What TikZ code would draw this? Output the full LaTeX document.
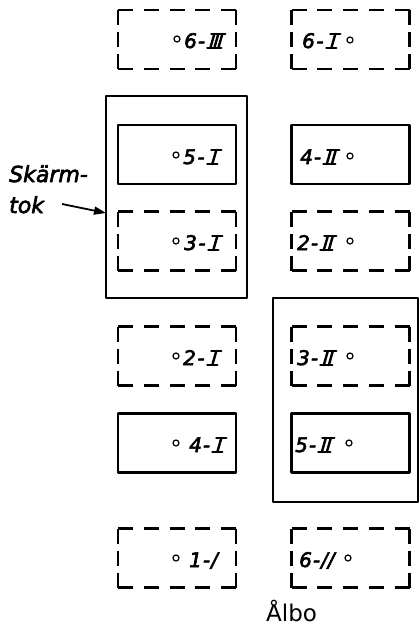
\documentclass[tikz,border=0pt]{standalone}
\usepackage{fontspec}
\setmainfont{DejaVu Sans}
\newfontfamily\albofont{DejaVu Sans}
\usetikzlibrary{arrows.meta}

% Roman numerals with joined top and bottom bars, slanted like technical lettering
\tikzset{rn/.style={baseline=0pt,x=1pt,y=1pt,line width=2.4pt,line cap=round,draw=black}}
\newcommand{\romI}{\tikz[rn]{\draw (0,0) -- (10,0); \draw (4,14) -- (14,14); \draw (5,0) -- (9,14);}}
\newcommand{\romII}{\tikz[rn]{\draw (0,0) -- (12,0); \draw (4,14) -- (16,14);
  \draw (3.5,0) -- (7.5,14); \draw (8.5,0) -- (12.5,14);}}
\newcommand{\romIII}{\tikz[rn]{\draw (0,0) -- (14,0); \draw (4,14) -- (18,14);
  \draw (3,0) -- (7,14); \draw (7,0) -- (11,14); \draw (11,0) -- (15,14);}}

% dashed outline drawn side by side so every corner carries a full dash
\newcommand{\dashsides}[1]{%
  \draw[hdash] (#1.north west) -- (#1.north east);
  \draw[hdash] (#1.south west) -- (#1.south east);
  \draw[vdash] (#1.north west) -- (#1.south west);
  \draw[vdash] (#1.north east) -- (#1.south east);}

\tikzset{
  cell/.style={rectangle,inner sep=0pt,outer sep=0pt,minimum width=118pt,minimum height=59pt},
  solidcell/.style={cell,draw,line width=2.3pt},
  dashcell/.style={cell},
  hdash/.style={line width=2.3pt,dash pattern=on 15pt off 10.75pt},
  vdash/.style={line width=2.3pt,dash pattern=on 15pt off 7pt},
  roof/.style={rectangle,draw,line width=2.4pt,inner sep=0pt,outer sep=0pt},
  dot/.style={circle,draw,line width=1.2pt,inner sep=0pt,minimum size=6pt},
  lab/.style={inner sep=0pt,font=\fontsize{20}{20}\selectfont\itshape\addfontfeature{FakeBold=3}},
  note/.style={inner sep=0pt,anchor=base west,font=\fontsize{22}{22}\selectfont\itshape\addfontfeature{FakeBold=3}},
}

\begin{document}
\begin{tikzpicture}[x=1pt,y=-1pt,line join=round]
\useasboundingbox (0,0) rectangle (419,629);

% screen roofs
\node[roof,minimum width=141pt,minimum height=202pt] (roofL) at (176.5,197) {};
\node[roof,minimum width=145pt,minimum height=204pt] (roofR) at (345.5,400) {};

% left column
\node[dashcell]  (c6III) at (177,39.5) {};
\node[solidcell] (c5I)   at (177,154.5) {};
\node[dashcell]  (c3I)   at (177,241) {};
\node[dashcell]  (c2I)   at (177,356) {};
\node[solidcell] (c4I)   at (177,443) {};
\node[dashcell]  (c1)    at (177,558) {};

% right column
\node[dashcell]  (c6I)   at (350.5,39.5) {};
\node[solidcell] (c4II)  at (350.5,154.5) {};
\node[dashcell]  (c2II)  at (350.5,241) {};
\node[dashcell]  (c3II)  at (350.5,356) {};
\node[solidcell] (c5II)  at (350.5,443) {};
\node[dashcell]  (c611)  at (350.5,558) {};

\dashsides{c6III}
\dashsides{c3I}
\dashsides{c2I}
\dashsides{c1}
\dashsides{c6I}
\dashsides{c2II}
\dashsides{c3II}
\dashsides{c611}

% left column labels
\node[dot] (d6III) at (177,39) {};
\node[lab,anchor=base west] (t6III) at (184,48) {6\kern1pt-\kern1pt\romIII};
\node[dot] (d5I) at (176,155) {};
\node[lab,anchor=base west] (t5I) at (183,164) {5\kern1.5pt-\kern1.5pt\romI};
\node[dot] (d3I) at (176,241) {};
\node[lab,anchor=base west] (t3I) at (184,250) {3\kern1.5pt-\kern1.5pt\romI};
\node[dot] (d2I) at (176,356) {};
\node[lab,anchor=base west] (t2I) at (183,365) {2\kern1.5pt-\kern1.5pt\romI};
\node[dot] (d4I) at (176,443) {};
\node[lab,anchor=base west] (t4I) at (189,452) {4\kern1pt-\kern1pt\romI};
\node[dot] (d1) at (176,558) {};
\node[lab,anchor=base west] (t1) at (189,567) {1\kern1pt-\kern1pt/};

% right column labels
\node[lab,anchor=base west] (t6I) at (302,48) {6\kern1.5pt-\kern1.5pt\romI};
\node[dot] (d6I) at (350,40) {};
\node[lab,anchor=base west] (t4II) at (300,164) {4\kern1pt-\kern1pt\romII};
\node[dot] (d4II) at (350,156) {};
\node[lab,anchor=base west] (t2II) at (297,250) {2\kern1pt-\kern1pt\romII};
\node[dot] (d2II) at (350,241) {};
\node[lab,anchor=base west] (t3II) at (297,365) {3\kern1pt-\kern1pt\romII};
\node[dot] (d3II) at (350,356) {};
\node[lab,anchor=base west] (t5II) at (295,452) {5\kern1pt-\kern1pt\romII};
\node[dot] (d5II) at (349,443) {};
\node[lab,anchor=base west] (t611) at (299,567) {6\kern1pt-\kern1pt//};
\node[dot] (d611) at (348,558) {};

% annotation
\node[note] (skarm) at (9,182) {Skärm-};
\node[note] (tok) at (9,213) {tok};
\coordinate (arrowfrom) at (62,204);
\coordinate (arrowto) at (106,213);
\draw[line width=1.8pt,-{Triangle[length=12pt,width=8pt]}] (arrowfrom) -- (arrowto);

\node[inner sep=0pt,anchor=base west,font=\albofont\fontsize{23}{23}\selectfont] (albo) at (266,621) {Ålbo};
\end{tikzpicture}
\end{document}
